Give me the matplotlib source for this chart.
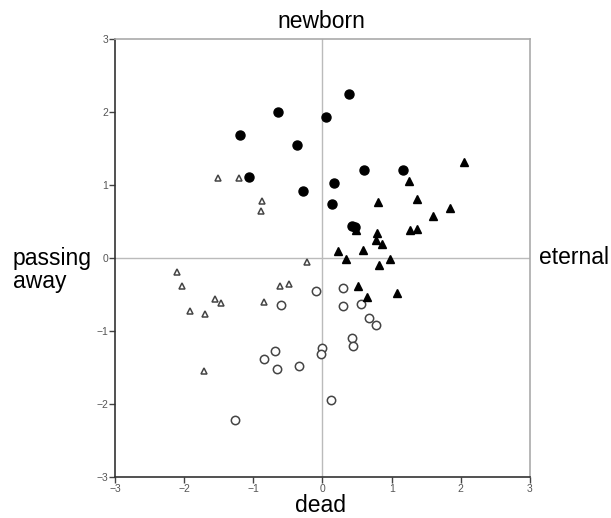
import numpy as np
import matplotlib.pyplot as plt

plt.rcParams['font.family'] = ['Liberation Sans', 'DejaVu Sans']

# filled circles
fc_x = [-0.65, -1.19, -0.37, -1.06, -0.28, 0.39, 0.05, 0.60, 1.17, 0.17, 0.14, 0.42, 0.47]
fc_y = [2.00, 1.68, 1.55, 1.11, 0.92, 2.24, 1.93, 1.20, 1.20, 1.03, 0.74, 0.44, 0.43]

# filled triangles
ft_x = [2.05, 1.25, 0.80, 1.36, 1.85, 1.60, 0.79, 1.26, 1.37, 0.77, 0.86, 0.49,
        0.23, 0.58, 0.34, 0.97, 0.82, 0.51, 0.65, 1.08]
ft_y = [1.31, 1.05, 0.77, 0.81, 0.68, 0.57, 0.34, 0.39, 0.40, 0.25, 0.19, 0.38,
        0.09, 0.11, -0.01, -0.02, -0.09, -0.39, -0.53, -0.48]

# open circles
oc_x = [-0.10, 0.29, 0.30, 0.55, 0.67, 0.77, 0.42, 0.44, 0.00, -0.02, 0.12,
        -0.60, -0.69, -0.84, -0.66, -0.34, -1.26]
oc_y = [-0.45, -0.41, -0.66, -0.63, -0.82, -0.92, -1.09, -1.20, -1.23, -1.32, -1.95,
        -0.64, -1.28, -1.39, -1.52, -1.48, -2.22]

# open triangles
ot_x = [-1.51, -1.20, -0.87, -0.89, -2.11, -2.03, -1.92, -1.70, -1.55, -1.47,
        -1.71, -0.85, -0.62, -0.48, -0.23]
ot_y = [1.09, 1.09, 0.78, 0.64, -0.19, -0.38, -0.72, -0.77, -0.56, -0.61,
        -1.55, -0.60, -0.38, -0.36, -0.06]

ticks = [-3, -2, -1, 0, 1, 2, 3]

fig = plt.figure(figsize=(6.11, 5.18), dpi=100)
ax = fig.add_axes([0.1882, 0.0792, 0.6792, 0.8455])

ax.axhline(0, color='#bbbbbb', lw=1, zorder=1)
ax.axvline(0, color='#bbbbbb', lw=1, zorder=1)

ax.plot(oc_x, oc_y, 'o', ms=6, mfc='white', mec='#444444', mew=1.1, ls='none', zorder=3)
ax.plot(ot_x, ot_y, '^', ms=5, mfc='white', mec='#444444', mew=1.1, ls='none', zorder=3)
ax.plot(ft_x, ft_y, '^', ms=5.5, mfc='black', mec='black', ls='none', zorder=3)
ax.plot(fc_x, fc_y, 'o', ms=6.5, mfc='black', mec='black', ls='none', zorder=4)

ax.set_xlim(-3, 3)
ax.set_ylim(-3, 3)
ax.set_xticks(ticks)
ax.set_yticks(ticks)
ax.tick_params(direction='out', length=4, width=1, colors='#444444',
               labelsize=7.5, labelcolor='#555555', pad=1)
ax.tick_params(top=False, right=False)

ax.spines['left'].set_color('#333333')
ax.spines['bottom'].set_color('#333333')
ax.spines['top'].set_color('#aaaaaa')
ax.spines['right'].set_color('#aaaaaa')
for s in ax.spines.values():
    s.set_linewidth(1.2)

fs = 16.5
fig.text(321/611, 1 - 22/518, 'newborn', ha='center', va='center', fontsize=fs)
fig.text(321/611, 1 - 505/518, 'dead', ha='center', va='center', fontsize=fs)
fig.text(539/611, 1 - 257/518, 'eternal', ha='left', va='center', fontsize=fs)
fig.text(13/611, 1 - 270/518, 'passing\naway', ha='left', va='center', fontsize=fs,
         linespacing=1.0)

plt.savefig('out.png', dpi=100)
